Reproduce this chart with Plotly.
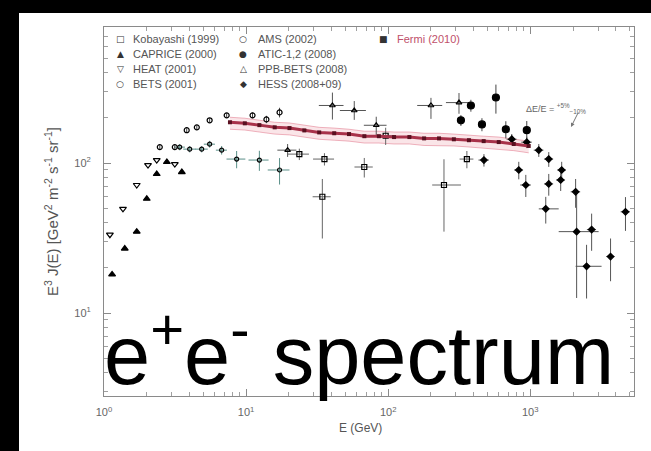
import plotly.graph_objects as go

# ---------------- measured data: E [GeV], E^3 J(E) [GeV^2 m^-2 s^-1 sr^-1] ----------------
kob_E = [23.7, 35.6, 34.4, 67.9, 247, 358, 96]
kob_J = [114.7, 106.3, 59.6, 94.1, 71.4, 106.3, 152]
kob_Jup = [10, 10, 18.7, 14, 34.6, 14, 20]
kob_Jdn = [10, 10, 28.2, 14, 36.5, 14, 20]
kob_Eup = [4, 6, 5, 10, 78, 40, 14]
kob_Edn = [4, 6, 5, 10, 43, 40, 14]

capr_E = [1.14, 1.40, 1.70, 2.00, 2.35, 2.77, 3.53]
capr_J = [18.1, 26.9, 34.9, 57.8, 84.5, 101.6, 87.1]

heat_E = [1.10, 1.36, 1.70, 2.04, 2.35, 3.15]
heat_J = [33.3, 49.5, 71.4, 97.0, 104.7, 98.5]

bets_E = [3.41, 4.01, 4.87, 5.54, 6.73, 8.58, 12.4, 17.2]
bets_J = [127.7, 123.8, 123.8, 133.6, 121.9, 106.3, 104.7, 89.9]
bets_Jerr = [6, 6, 6, 7, 8, 14, 16, 18]
bets_Eerr = [0.3, 0.4, 0.5, 0.5, 0.6, 1.3, 2.0, 3.0]

ams_E = [2.47, 3.15, 3.82, 4.50, 5.54, 7.30, 11.1, 13.9, 17.2]
ams_J = [127.7, 127.7, 165.6, 173.0, 192.8, 208.0, 208.0, 195.5, 217.6]
ams_Jerr = [4, 4, 5, 5, 6, 7, 9, 11, 16]

atic_E = [325, 382, 457, 573, 673, 945]
atic_J = [192.8, 242.0, 181.0, 273.5, 168.0, 165.6]
atic_Jerr = [16, 22, 18, 60, 22, 25]

ppb_E = [19.6, 40.5, 57.7, 82.4, 200, 315]
ppb_J = [121.9, 242.0, 224.0, 178.6, 242.0, 253.0]
ppb_Jup = [12, 53, 35, 25, 30, 40]
ppb_Jdn = [12, 47, 30, 25, 45, 40]
ppb_Eerr = [3, 8, 12, 15, 40, 60]

hess_E = [472, 741, 830, 930, 945, 1148, 1349, 1349, 1285, 1637, 1664, 2085, 2120, 2703, 2490, 3673, 4677]
hess_J = [104.7, 144.2, 89.9, 71.4, 137.8, 121.9, 106.3, 72.6, 49.5, 77.1, 89.9, 64.3, 34.9, 36.0, 20.5, 23.8, 47.3]
hess_Jup = [10, 12, 12, 12, 12, 12, 12, 12, 10, 12, 12, 14, 32.4, 10, 8, 7.6, 12]
hess_Jdn = [10, 12, 12, 12, 12, 12, 12, 12, 10, 12, 12, 14, 22.3, 10, 8, 7.5, 12]
hess_Eup = [40, 60, 60, 80, 80, 90, 100, 100, 300, 120, 120, 160, 907, 200, 685, 250, 350]
hess_Edn = [40, 60, 60, 80, 80, 90, 100, 100, 137, 120, 120, 160, 535, 200, 405, 250, 350]

fermi_E = [7.7, 9.8, 12.4, 15.9, 20.2, 25.7, 32.7, 41.7, 53, 68, 86, 110, 141, 179, 228, 290, 370, 470, 600, 765, 975]
fermi_J = [187, 184, 179, 173, 171, 165, 160, 158, 156, 151, 151, 149, 149, 146, 146, 144, 142, 140, 138, 134, 130]
fermi_hi = [202, 199, 193, 187, 185, 178, 173, 171, 168, 163, 163, 161, 161, 158, 158, 156, 153, 151, 149, 145, 140]
fermi_lo = [168, 166, 161, 156, 154, 149, 144, 142, 140, 136, 136, 134, 134, 131, 131, 130, 128, 126, 124, 121, 117]

x_ticks = [1, 10, 100, 1000]
x_ticktext = ["10<sup>0</sup>", "10<sup>1</sup>", "10<sup>2</sup>", "10<sup>3</sup>"]
y_ticks = [10, 100]
y_ticktext = ["10<sup>1</sup>", "10<sup>2</sup>"]

legend_col1 = [("□", "Kobayashi (1999)"), ("▲", "CAPRICE (2000)"), ("▽", "HEAT (2001)"), ("○", "BETS (2001)")]
legend_col2 = [("○", "AMS (2002)"), ("●", "ATIC-1,2 (2008)"), ("△", "PPB-BETS (2008)"), ("◆", "HESS (2008+09)")]
legend_col3 = [("■", "Fermi (2010)")]

# ---------------- layout geometry (pixels of the 651x451 page) ----------------
W, H = 651, 451
L, R, T, B = 104, 634, 27, 396


def px_x(p):
    return (p - L) / (R - L)


def px_y(p):
    return (B - p) / (B - T)


ERR = "#444444"
fig = go.Figure()

# Fermi systematic band
fig.add_trace(go.Scatter(x=fermi_E, y=fermi_lo, mode="lines",
                         line=dict(color="rgba(225,120,140,0.55)", width=1), hoverinfo="skip"))
fig.add_trace(go.Scatter(x=fermi_E, y=fermi_hi, mode="lines", fill="tonexty",
                         fillcolor="rgba(235,150,165,0.25)",
                         line=dict(color="rgba(225,120,140,0.55)", width=1), hoverinfo="skip"))


def pts(name, x, y, symbol, size, color="black", ey=None, eyd=None, ex=None, exd=None, ecol=ERR):
    kw = {}
    if ey is not None:
        kw["error_y"] = dict(type="data", array=ey, arrayminus=eyd if eyd is not None else ey,
                             color=ecol, thickness=1, width=0)
    if ex is not None:
        kw["error_x"] = dict(type="data", array=ex, arrayminus=exd if exd is not None else ex,
                             color=ecol, thickness=1, width=0)
    fig.add_trace(go.Scatter(name=name, x=x, y=y, mode="markers",
                             marker=dict(symbol=symbol, size=size, color=color,
                                         line=dict(color=color, width=1.2)), **kw))


pts("Kobayashi (1999)", kob_E, kob_J, "square-open", 5, ey=kob_Jup, eyd=kob_Jdn, ex=kob_Eup, exd=kob_Edn, ecol="#666666")
pts("CAPRICE (2000)", capr_E, capr_J, "triangle-up", 6)
pts("HEAT (2001)", heat_E, heat_J, "triangle-down-open", 6)
pts("BETS (2001)", bets_E, bets_J, "circle-open", 4, ey=bets_Jerr, ex=bets_Eerr, ecol="#5a8f88")
pts("AMS (2002)", ams_E, ams_J, "circle-open", 5, ey=ams_Jerr)
pts("PPB-BETS (2008)", ppb_E, ppb_J, "triangle-up-open", 5, ey=ppb_Jup, eyd=ppb_Jdn, ex=ppb_Eerr, ecol="#555555")
pts("ATIC-1,2 (2008)", atic_E, atic_J, "circle", 7, ey=atic_Jerr)
pts("HESS (2008+09)", hess_E, hess_J, "diamond", 5, ey=hess_Jup, eyd=hess_Jdn, ex=hess_Eup, exd=hess_Edn, ecol="#555555")

# Fermi measurement on top
fig.add_trace(go.Scatter(name="Fermi (2010)", x=fermi_E, y=fermi_J, mode="lines+markers",
                         line=dict(color="#a8324a", width=3),
                         marker=dict(symbol="square", size=4, color="#5a1020")))

axis_common = dict(type="log", showgrid=False, zeroline=False, showline=True,
                   linecolor="#8a8a8a", linewidth=1, mirror="ticks", ticks="inside",
                   ticklen=7, tickcolor="#8a8a8a", tickmode="array",
                   tickfont=dict(family="Liberation Sans", size=11, color="#666666"),
                   minor=dict(ticks="inside", ticklen=4, tickcolor="#a0a0a0", dtick="D1"))

fig.update_xaxes(range=[0, 3.73], tickvals=x_ticks, ticktext=x_ticktext, ticklabelstandoff=6, **axis_common)
fig.update_yaxes(range=[0.447, 2.907], tickvals=y_ticks, ticktext=y_ticktext, ticklabelstandoff=10, **axis_common)

annotations = []
# legend drawn as text rows inside the frame
rows = [39, 54, 69, 84]
for col, (gx, tx) in zip([legend_col1, legend_col2, legend_col3], [(120, 131), (243, 256), (383, 395)]):
    for (glyph, label), ry in zip(col, rows):
        tcolor = "#c0506a" if label.startswith("Fermi") else "#555555"
        annotations.append(dict(x=px_x(gx), y=px_y(ry), xref="paper", yref="paper", text=glyph,
                                showarrow=False, xanchor="center", yanchor="middle",
                                font=dict(family="DejaVu Sans", size=9, color="#333333")))
        annotations.append(dict(x=px_x(tx), y=px_y(ry), xref="paper", yref="paper", text=label,
                                showarrow=False, xanchor="left", yanchor="middle",
                                font=dict(family="Liberation Sans", size=11, color=tcolor)))

# energy-scale uncertainty note
annotations.append(dict(x=px_x(588), y=px_y(100), xref="paper", yref="paper",
                        text="ΔE/E = <sup>+5%</sup><sub>−10%</sub>", showarrow=False,
                        font=dict(family="Liberation Sans", size=9, color="#666666")))
annotations.append(dict(x=px_x(571), y=px_y(127), xref="paper", yref="paper", text="",
                        showarrow=True, ax=8, ay=-16, arrowhead=2, arrowsize=0.8,
                        arrowwidth=1, arrowcolor="#777777"))

# axis titles
annotations.append(dict(x=px_x(40), y=0.5, xref="paper", yref="paper",
                        text="E<sup>3</sup> J(E) [GeV<sup>2</sup> m<sup>-2</sup> s<sup>-1</sup> sr<sup>-1</sup>]",
                        textangle=-90, showarrow=False,
                        font=dict(family="Liberation Sans", size=15, color="#555555")))
annotations.append(dict(x=px_x(360), y=px_y(437), xref="paper", yref="paper", text="E (GeV)",
                        showarrow=False, font=dict(family="Liberation Sans", size=12, color="#555555")))

# big caption
annotations.append(dict(x=px_x(102), y=px_y(404), xref="paper", yref="paper",
                        text="e<sup>+</sup>e<sup>-</sup> spectrum", showarrow=False,
                        xanchor="left", yanchor="bottom",
                        font=dict(family="Liberation Sans", size=83, color="black")))

shapes = [
    dict(type="rect", xref="paper", yref="paper", x0=px_x(-5), x1=px_x(W + 5), y0=px_y(13), y1=px_y(-5),
         fillcolor="black", line=dict(width=0), layer="above"),
    dict(type="rect", xref="paper", yref="paper", x0=px_x(-5), x1=px_x(19), y0=px_y(H + 5), y1=px_y(-5),
         fillcolor="black", line=dict(width=0), layer="above"),
]

fig.update_layout(width=W, height=H, margin=dict(l=L, r=W - R, t=T, b=H - B),
                  paper_bgcolor="white", plot_bgcolor="white", showlegend=False,
                  annotations=annotations, shapes=shapes)

fig.write_html("out.html")
